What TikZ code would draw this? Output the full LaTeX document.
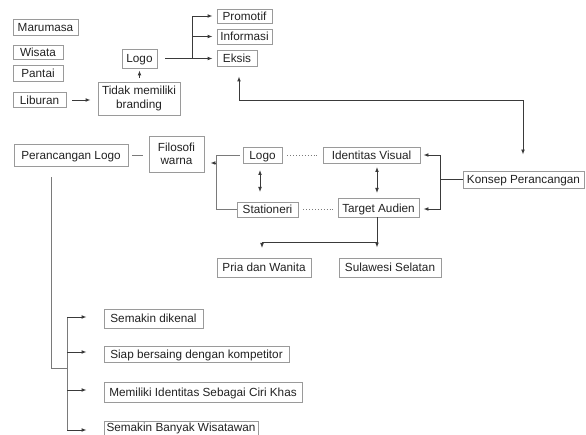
\documentclass[tikz,border=0pt]{standalone}
\usepackage{fontspec}
\setmainfont{Liberation Sans}
\usetikzlibrary{arrows.meta,calc}
\definecolor{boxc}{HTML}{9A9A9A}
\definecolor{linec}{HTML}{3A3A3A}
\definecolor{linel}{HTML}{7A7A7A}
\definecolor{txtc}{HTML}{222222}
\tikzset{
  box/.style={draw=boxc, line width=0.9pt, inner sep=0pt, align=center, text=txtc,
    font=\fontsize{11.75}{13.2}\selectfont},
  one/.style={text height=8.5pt, text depth=0pt},
  tip/.tip={Latex[length=5pt,width=3.8pt]},
  arr/.style={draw=linec, line width=0.9pt, -tip},
  dbl/.style={draw=linec, line width=0.9pt, tip-tip},
  ln/.style={draw=linec, line width=0.9pt},
  lnl/.style={draw=linel, line width=0.9pt},
  dots/.style={draw=linel, line width=0.9pt, dotted},
}
\begin{document}
\begin{tikzpicture}[x=1pt,y=-1pt]
\useasboundingbox (0,0) rectangle (586,435);
\clip (0,0) rectangle (586,435);
\fill[white] (0,0) rectangle (586,435);
% top-left group
\node[box, one, minimum width=65pt, minimum height=16pt] (maru) at (45.5,27) {Marumasa};
\node[box, one, minimum width=50pt, minimum height=14pt] (wisata) at (38,52) {Wisata};
\node[box, one, minimum width=50pt, minimum height=16pt] (pantai) at (38,73) {Pantai};
\node[box, one, minimum width=53pt, minimum height=15pt] (liburan) at (39.5,100) {Liburan};
\node[box, minimum width=82pt, minimum height=33pt] (tidak) at (139,98.5) {Tidak memiliki\\branding};
\node[box, one, minimum width=35pt, minimum height=19pt] (logoA) at (139.5,58.5) {Logo};
\node[box, one, minimum width=55pt, minimum height=14pt] (promotif) at (244.5,16) {Promotif};
\node[box, one, minimum width=55pt, minimum height=15pt] (informasi) at (244.5,36.5) {Informasi};
\node[box, one, minimum width=40pt, minimum height=16pt] (eksis) at (237,58) {Eksis};
% middle
\node[box, one, minimum width=114pt, minimum height=22pt] (peranc) at (71,155) {Perancangan Logo};
\node[box, minimum width=55pt, minimum height=36pt] (filosofi) at (176.5,154) {Filosofi\\warna};
\node[box, one, minimum width=39pt, minimum height=16pt] (logoB) at (262.5,155) {Logo};
\node[box, one, minimum width=97pt, minimum height=16pt] (identitas) at (371.5,155) {Identitas Visual};
\node[box, one, minimum width=61pt, minimum height=15pt] (stationeri) at (267.5,209.5) {Stationeri};
\node[box, one, minimum width=81pt, minimum height=19pt] (target) at (378.5,208) {Target Audien};
\node[box, one, minimum width=121pt, minimum height=17pt] (konsep) at (523.5,179.5) {Konsep Perancangan};
\node[box, one, minimum width=94pt, minimum height=19pt] (pria) at (264,267.5) {Pria dan Wanita};
\node[box, one, minimum width=102pt, minimum height=19pt] (sulawesi) at (390,267.5) {Sulawesi Selatan};
% bottom
\node[box, one, minimum width=99pt, minimum height=19pt] (s1) at (153.5,318.5) {Semakin dikenal};
\node[box, one, minimum width=185pt, minimum height=16pt] (s2) at (196.5,354) {Siap bersaing dengan kompetitor};
\node[box, one, minimum width=198pt, minimum height=20pt] (s3) at (203,392) {Memiliki Identitas Sebagai Ciri Khas};
\node[box, text height=0pt, text depth=9pt, minimum width=154pt, minimum height=30pt] (s4) at (181,436) {Semakin Banyak Wisatawan};
% coordinates
\coordinate (br1) at (192,58.5);
\coordinate (ekc) at (239,100);
\coordinate (kb) at (440,179.5);
\coordinate (lb) at (216,155);
\coordinate (lf) at (216,163);
\coordinate (pv) at (51,368);
\coordinate (pb) at (67,368);
\coordinate (tb) at (377,242);
% connectors top
\draw[arr, shorten <=6pt, shorten >=7pt] (liburan.east) -- (tidak.west |- liburan.east);
\draw[arr, shorten <=4pt, shorten >=2pt] (tidak.north -| logoA.south) -- (logoA.south);
\draw[ln, shorten <=8pt] (logoA.east) -- (br1);
\draw[arr, shorten >=4pt] (br1) |- (promotif.west);
\draw[arr, shorten >=4pt] (br1 |- informasi.west) -- (informasi.west);
\draw[arr, shorten >=4pt] (br1) -- (eksis.west |- br1);
\draw[dbl, shorten <=10pt, shorten >=16pt] (ekc |- eksis.south) |- (ekc) -| (konsep.north -| 523,0);
% middle connectors
\draw[ln] (konsep.west) -- (kb);
\draw[arr, shorten >=3pt] (kb) |- (identitas.east);
\draw[arr, shorten >=4pt] (kb) |- (target.east |- 0,209);
\draw[dots, shorten <=5pt, shorten >=5pt] (logoB.east) -- (identitas.west);
\draw[dots, shorten <=5pt, shorten >=5pt] (stationeri.east) -- (target.west |- stationeri.east);
\draw[dbl, shorten <=7pt, shorten >=10pt] (260,163) -- (260,202);
\draw[dbl, shorten <=4pt, shorten >=5pt] (377,163) -- (377,198);
\draw[lnl, shorten <=3pt] (logoB.west) -- (lb) |- (stationeri.west);
\draw[arr, shorten >=6pt] (lf) -- (filosofi.east |- lf);
\draw[arr, shorten >=10pt] (377,217.5) -- (sulawesi.north -| 377,0);
\draw[arr, shorten >=10pt] (tb) -| (262,258);
\draw[lnl, shorten <=4pt, shorten >=6pt] (peranc.east) -- (filosofi.west |- peranc.east);
% bottom connectors
\draw[lnl, shorten <=11pt] (peranc.south -| pv) -- (pv) -- (pb);
\draw[lnl] (67,317) -- (67,430);
\draw[arr, shorten >=17pt] (67,317) -- (s1.west |- 0,317);
\draw[arr, shorten >=17pt] (67,352) -- (s2.west |- 0,352);
\draw[arr, shorten >=17pt] (67,390) -- (s3.west |- 0,390);
\draw[arr, shorten >=17pt] (67,430) -- (s4.west |- 0,430);
\end{tikzpicture}
\end{document}
